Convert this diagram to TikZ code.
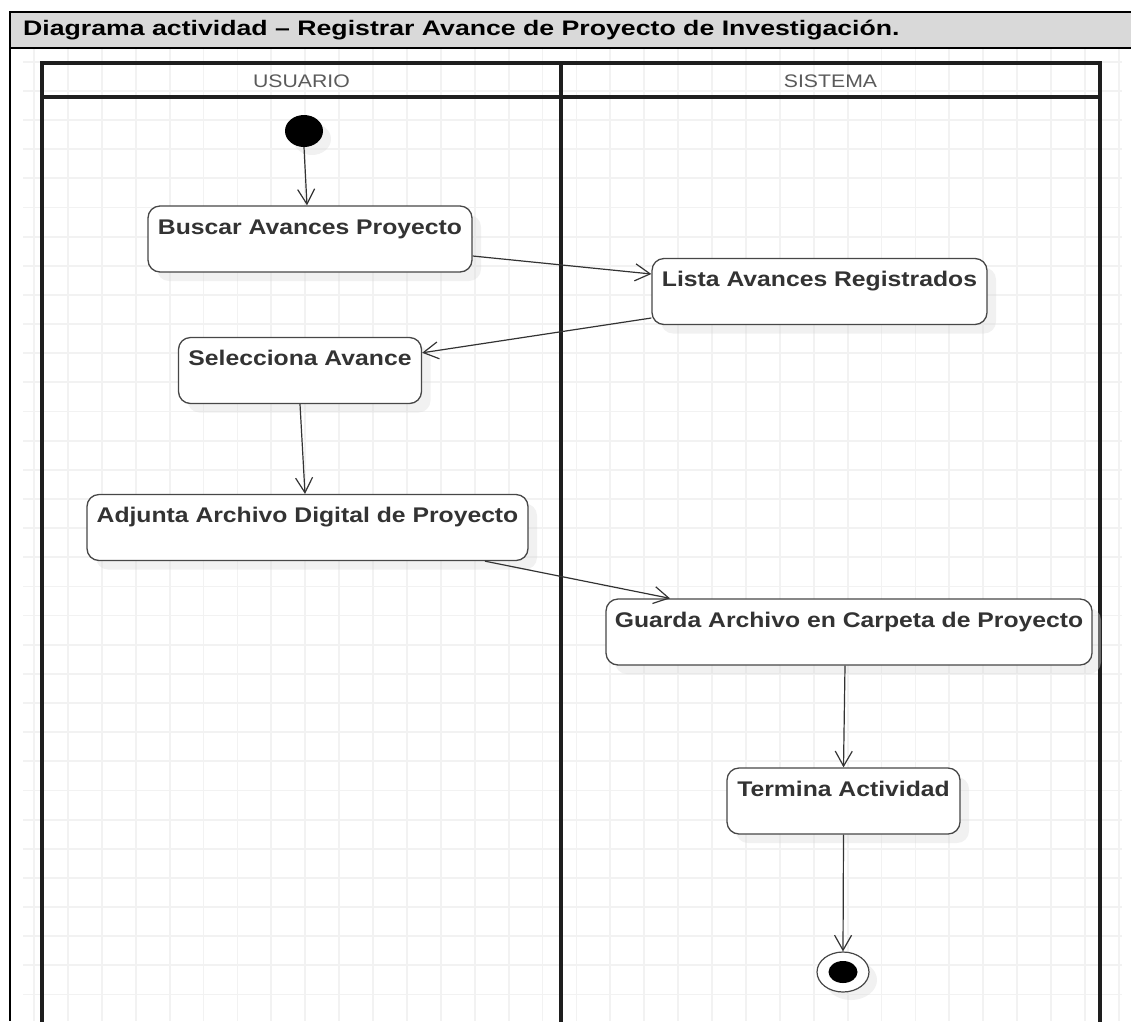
\documentclass[tikz,border=0pt]{standalone}
\usepackage{fontspec}
\setmainfont{Liberation Sans}
\newfontfamily\diagfont{Liberation Sans}[FakeStretch=1.166]
\newfontfamily\titlefont{Liberation Sans}[FakeStretch=1.27]
\usetikzlibrary{arrows.meta,shadows,shapes.geometric}

\definecolor{headgray}{HTML}{D9D9D9}
\definecolor{gridgray}{HTML}{F2F2F2}
\definecolor{inkgray}{HTML}{333333}
\definecolor{lanegray}{HTML}{1E1E1E}
\definecolor{namegray}{HTML}{5A5A5A}

\tikzset{
  gridline/.style={draw=gridgray, line width=1.8pt},
  lane/.style={draw=lanegray, line width=3.2pt},
  lanename/.style={inner sep=0pt, text=namegray,
    font=\diagfont\fontsize{18.2}{21}\selectfont},
  act/.style={draw=black!72, line width=1.3pt, rounded corners=12pt,
    fill=white, inner xsep=0pt, inner ysep=0pt,
    text height=28pt, text depth=38pt, text=inkgray,
    font=\diagfont\bfseries\fontsize{21.2}{25}\selectfont,
    drop shadow={shadow xshift=9pt, shadow yshift=-9pt,
      fill=black!14, opacity=0.4}},
  startdot/.style={ellipse, fill=black, inner sep=0pt,
    minimum width=38pt, minimum height=32pt,
    drop shadow={shadow xshift=8pt, shadow yshift=-8pt,
      fill=black!14, opacity=0.4}},
  endring/.style={ellipse, draw=black!72, line width=1.2pt, fill=white,
    inner sep=0pt, minimum width=52pt, minimum height=40pt,
    drop shadow={shadow xshift=8pt, shadow yshift=-8pt,
      fill=black!14, opacity=0.4}},
  enddot/.style={ellipse, fill=black, inner sep=0pt,
    minimum width=29pt, minimum height=22pt},
  flow/.style={draw=inkgray, line width=1.2pt,
    -{Straight Barb[length=15pt, width=17pt, line width=1.2pt]}},
}

\begin{document}
\begin{tikzpicture}[x=1pt, y=-1pt]
  \useasboundingbox (0,0) rectangle (1131,1021);
  \clip (0,0) rectangle (1131,1021);

  % background grid of the modelling canvas
  \foreach \k in {0,...,32}
    \draw[gridline] ({34+33.9*\k},49) -- ({34+33.9*\k},1021);
  \foreach \k in {-2,...,31}
    \draw[gridline] (23,{120+29.15*\k}) -- (1122,{120+29.15*\k});

  % table heading row
  \fill[headgray] (10,12) rectangle (1131,48);
  \draw[black, line width=2pt] (1131,12) -- (10,12) -- (10,1021);
  \draw[black, line width=1.2pt] (10,48) -- (1131,48);
  \node[anchor=base west, inner sep=0pt,
    font=\titlefont\bfseries\fontsize{21}{25}\selectfont] (title) at (23,35.5)
    {Diagrama actividad – Registrar Avance de Proyecto de Investigación.};

  % swimlanes
  \draw[lane] (42,1030) -- (42,63) -- (1100,63) -- (1100,1030);
  \draw[lane] (42,97) -- (1100,97);
  \draw[lane] (561,63) -- (561,1030);
  \node[lanename] (usuario) at (301.5,81) {USUARIO};
  \node[lanename] (sistema) at (830.5,81) {SISTEMA};

  % activities
  \node[startdot] (start) at (304,131) {};
  \node[act, minimum width=324pt] (buscar) at (310,239) {Buscar Avances Proyecto};
  \node[act, minimum width=335pt] (lista) at (819.5,291.5) {Lista Avances Registrados};
  \node[act, minimum width=243pt] (selec) at (300,370.5) {Selecciona Avance};
  \node[act, minimum width=441pt] (adjunta) at (307.5,527.5) {Adjunta Archivo Digital de Proyecto};
  \node[act, minimum width=486pt] (guarda) at (849,632) {Guarda Archivo en Carpeta de Proyecto};
  \node[act, minimum width=233pt] (termina) at (843.5,801) {Termina Actividad};
  \node[endring] (fin) at (843,972) {};
  \node[enddot] (fincore) at (fin.center) {};

  % control flow
  \draw[flow] (start.south) -- ([xshift=-3pt]buscar.north);
  \draw[flow] ([yshift=-17pt]buscar.east) -- ([yshift=17.5pt]lista.west);
  \draw[flow] ([yshift=-26.5pt]lista.west) -- ([yshift=17.7pt]selec.east);
  \draw[flow] (selec.south) -- ([xshift=-2.5pt]adjunta.north);
  \draw[flow] ([xshift=177.5pt]adjunta.south) -- ([xshift=-179pt]guarda.north);
  \draw[flow] ([xshift=-4pt]guarda.south) -- (termina.north);
  \draw[flow] (termina.south) -- (fin.north);
\end{tikzpicture}
\end{document}
